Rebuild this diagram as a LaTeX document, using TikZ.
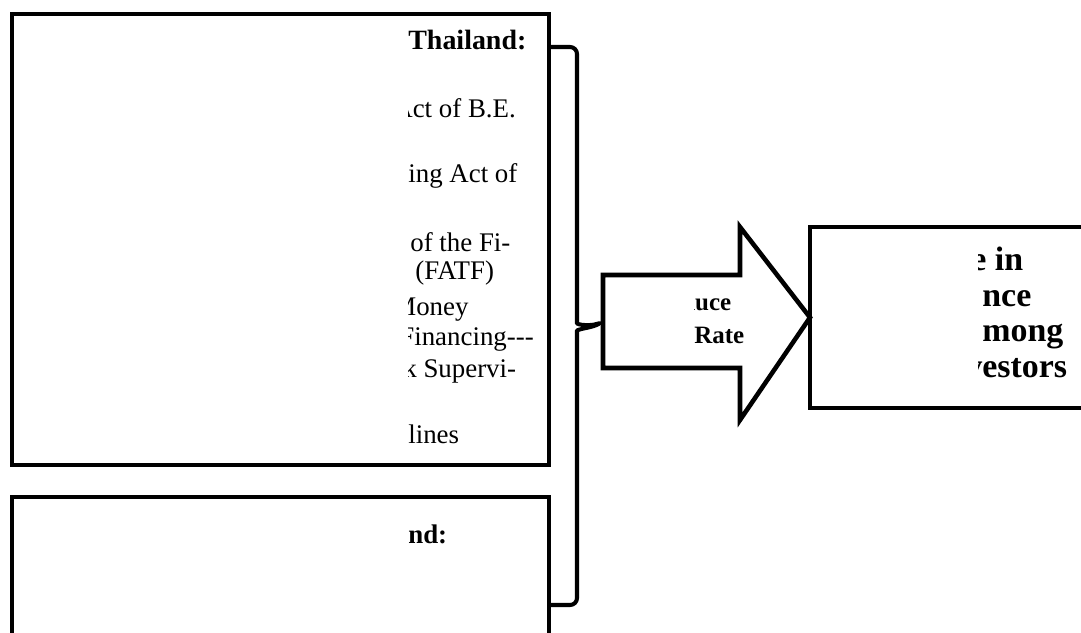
\documentclass[tikz,border=0pt]{standalone}
\usepackage{fontspec}
\setmainfont{Liberation Serif}
\usepackage{tikz}
\usetikzlibrary{positioning, arrows.meta}
\definecolor{nInk}{HTML}{000000}
\definecolor{nFill}{HTML}{FFFFFF}
\tikzset{
  panel/.style={draw=nInk, line width=2.7pt, fill=nFill, inner sep=0pt, outer sep=0pt,
    anchor=north west},
  lawtext/.style={anchor=base west, inner sep=0pt, text=nInk, font=\fontsize{15.3}{18}\selectfont},
  lawhead/.style={lawtext, font=\fontsize{15.9}{18}\selectfont\bfseries},
  ratetext/.style={lawtext, font=\fontsize{14.2}{17}\selectfont\bfseries},
  effecttext/.style={lawtext, font=\fontsize{19.3}{22}\selectfont\bfseries},
  blockarrow/.style={draw=nInk, line width=2.6pt, fill=nFill, line join=miter},
  bracket/.style={draw=nInk, line width=2.3pt, rounded corners=0.14cm},
}

\begin{document}
\begin{tikzpicture}[x=0.02cm, y=-0.02cm]
  \clip (0,0) rectangle (1081,632);
  \node[panel, minimum width=10.74cm, minimum height=9.02cm] (thaibox) at (12,14) {};
  \node[panel, minimum width=10.74cm, minimum height=4cm] (lowbox) at (12,497) {};
  \node[panel, minimum width=6cm, minimum height=3.62cm] (effectbox) at (810,227) {};
  % laws
  \begin{scope}
    \clip (408,14) rectangle (549,465);
    \node[lawhead] (thai) at (408,49) {Thailand:};
    \node[lawtext] (actbe) at (393,117) {Act of B.E.};
    \node[lawtext] (actof) at (408,182) {ing Act of};
    \node[lawtext] (fi) at (410,251) {of the Fi-};
    \node[lawtext] (fatf) at (415,279) {(FATF)};
    \node[lawtext] (money) at (392,315) {Money};
    \node[lawtext] (financing) at (399,345) {Financing-{}-{}-};
    \node[lawtext] (supervi) at (403,377) {k Supervi-};
    \node[lawtext] (lines) at (408,443) {lines};
  \end{scope}
  \begin{scope}
    \clip (408,497) rectangle (549,632);
    \node[lawhead, font=\fontsize{15.3}{18}\selectfont\bfseries] (nd) at (408,543) {nd:};
  \end{scope}
  % arrow
  \coordinate (arrtail) at (603,322);
  \draw[blockarrow] (603,275) -- (740,275) -- (740,227) -- (effectbox.west) -- (740,420)
    -- (740,368) -- (603,368) -- cycle;
  \begin{scope}
    \clip (694,260) rectangle (800,380);
    \node[ratetext] (uce) at (681,310) {duce};
    \node[ratetext] (rate) at (694,343) {Rate};
  \end{scope}
  % brace
  \draw[bracket] (thaibox.east |- 0,47) -- (577,47) -- (577,316)
    .. controls (577,325) and (590,326) .. (arrtail)
    .. controls (590,328) and (577,329) .. (577,338) -- (577,605) -- (lowbox.east |- 0,605);
  % effect
  \begin{scope}
    \clip (978,227) rectangle (1081,408);
    \node[effecttext] (ein) at (971,270) {e in};
    \node[effecttext] (nce) at (982,306) {nce};
    \node[effecttext] (mong) at (982,341) {mong};
    \node[effecttext] (vestors) at (965,377) {vestors};
  \end{scope}
\end{tikzpicture}
\end{document}
